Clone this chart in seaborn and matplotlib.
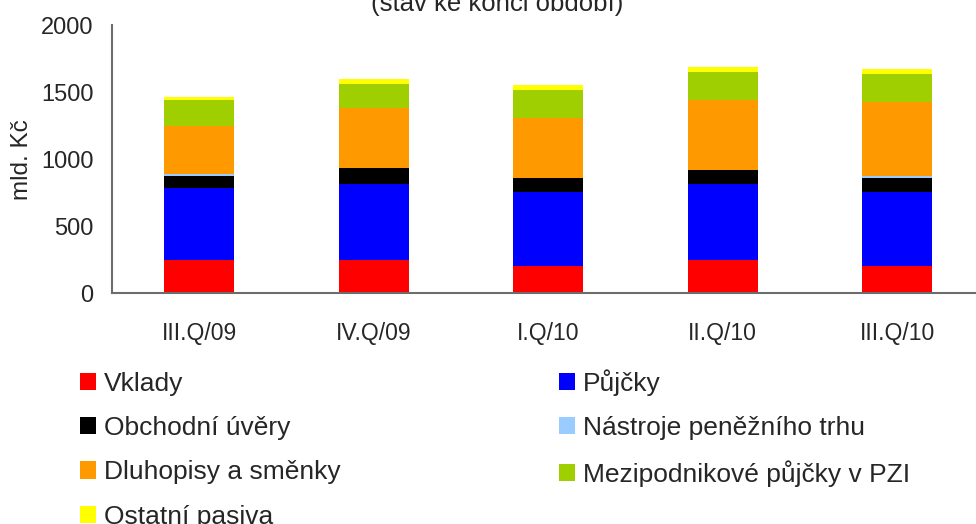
import numpy as np
import pandas as pd
import matplotlib
matplotlib.use("Agg")
import matplotlib.pyplot as plt
import seaborn as sns
from matplotlib.patches import Patch
from matplotlib.ticker import FixedLocator, NullFormatter

# ==========================================
# DATA (mld. Kc, stav ke konci obdobi)
# ==========================================
periods = ["III.Q/09", "IV.Q/09", "I.Q/10", "II.Q/10", "III.Q/10"]

vklady = [248, 248, 203, 248, 203]
pujcky = [537, 566, 552, 566, 552]
obchodni_uvery = [89, 119, 104, 105, 104]
nastroje_ph = [15, 2, 2, 2, 17]
dluhopisy = [360, 448, 447, 519, 549]
mezipodnikove = [191, 176, 207, 209, 209]
ostatni = [22, 37, 37, 37, 37]

series_names = [
    "Vklady",
    "Půjčky",
    "Obchodní úvěry",
    "Nástroje peněžního trhu",
    "Dluhopisy a směnky",
    "Mezipodnikové půjčky v PZI",
    "Ostatní pasiva",
]
series_values = [vklady, pujcky, obchodni_uvery, nastroje_ph,
                 dluhopisy, mezipodnikove, ostatni]
series_colors = ["#FF0000", "#0000FF", "#000000", "#99CCFF",
                 "#FF9900", "#9FCF00", "#FFFF00"]

# ==========================================
# STYLE
# ==========================================
sns.set_style("white")
plt.rcParams["font.family"] = ["Liberation Sans", "DejaVu Sans"]
FS_X = 16.5
FS_Y = 17
FS_TEXT = 18.5
AXIS_COLOR = "#6d6d6d"

# long table -> cumulative tops for stacking
df = pd.DataFrame(np.array(series_values).T, columns=series_names)
df["period"] = periods
cum = df[series_names].cumsum(axis=1)
cum["period"] = periods

fig = plt.figure(figsize=(9.76, 5.24), dpi=100)
ax = fig.add_axes([111.7 / 976, 230.7 / 524, 873.0 / 976, 268.3 / 524])

# draw tallest cumulative first, smaller ones on top
for name, color in reversed(list(zip(series_names, series_colors))):
    sns.barplot(data=cum, x="period", y=name, order=periods, color=color,
                width=0.4, errorbar=None, saturation=1, linewidth=0, ax=ax)

ax.set_xlim(-0.5, len(periods) - 0.5)
ax.set_ylim(0, 2000)
ax.set_yticks([0, 500, 1000, 1500, 2000])
ax.set_xlabel("")
ax.set_ylabel("mld. Kč", fontsize=17.5, labelpad=6)

# category boundaries carry the tick marks, labels sit in the middle
ax.xaxis.set_major_locator(FixedLocator(np.arange(-0.5, len(periods), 1.0)))
ax.xaxis.set_major_formatter(NullFormatter())
ax.xaxis.set_minor_locator(FixedLocator(np.arange(len(periods))))
ax.set_xticklabels(periods, minor=True)
ax.tick_params(axis="x", which="minor", length=0, pad=21, labelsize=FS_X)
ax.tick_params(axis="x", which="major", length=7, width=1.5,
               color=AXIS_COLOR, direction="out")
ax.tick_params(axis="y", length=7, width=1.5, color=AXIS_COLOR,
               direction="out", labelsize=FS_Y, pad=6)

for side in ["top", "right"]:
    ax.spines[side].set_visible(False)
for side in ["left", "bottom"]:
    ax.spines[side].set_color(AXIS_COLOR)
    ax.spines[side].set_linewidth(1.5)

fig.text(497 / 976, 1 - 16 / 524, "(stav ke konci období)",
         ha="center", va="bottom", fontsize=FS_TEXT)

# legend read row-wise in the original -> reorder for column filling
order = [0, 2, 4, 6, 1, 3, 5]
handles = [Patch(facecolor=series_colors[i], edgecolor="none") for i in order]
labels = [series_names[i] for i in order]
fig.legend(handles, labels, loc="upper left",
           bbox_to_anchor=(80 / 976, 1 - 369 / 524), ncol=2, frameon=False,
           fontsize=19, handlelength=0.62, handleheight=0.62,
           handletextpad=0.3, labelspacing=0.77, columnspacing=8.25,
           borderpad=0, borderaxespad=0)

fig.savefig("out.png", dpi=100)
plt.close(fig)
